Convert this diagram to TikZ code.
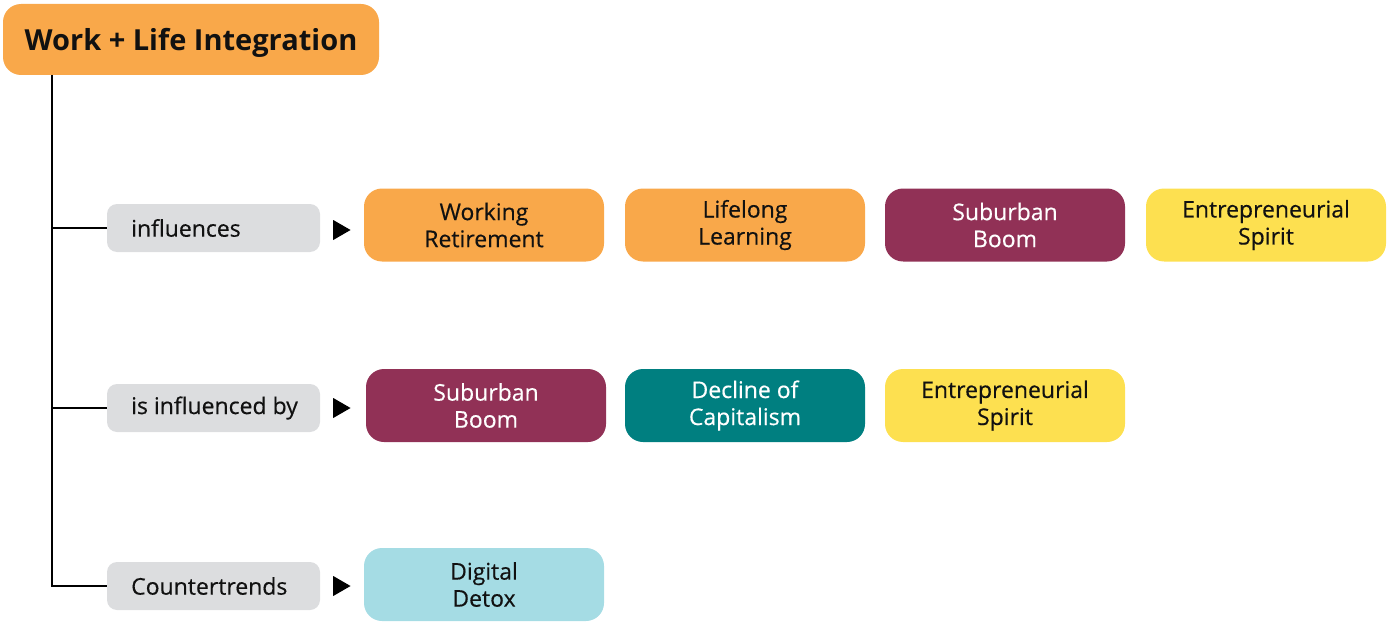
\documentclass[tikz,border=0pt]{standalone}
\usepackage{fontspec}
\setmainfont{Open Sans}
\usetikzlibrary{shapes.geometric}
\definecolor{corange}{HTML}{F9A84A}
\definecolor{cmaroon}{HTML}{913156}
\definecolor{cteal}{HTML}{007F80}
\definecolor{cblue}{HTML}{A5DCE4}
\definecolor{cyellow}{HTML}{FDE050}
\definecolor{cgrey}{HTML}{DCDDDF}
\definecolor{ctext}{HTML}{111111}
\tikzset{
  title/.style={fill=corange, rounded corners=18pt, minimum width=376pt, minimum height=71pt, inner sep=0pt},
  titletext/.style={anchor=base, inner sep=0pt, font=\fontsize{29}{34}\selectfont\bfseries, text=ctext},
  rel/.style={fill=cgrey, rounded corners=10pt, minimum width=213pt, minimum height=48pt, inner sep=0pt},
  reltext/.style={anchor=west, inner sep=0pt, font=\fontsize{23}{27}\selectfont\addfontfeature{FakeBold=0.4}, text=ctext},
  trend/.style={rounded corners=18pt, minimum width=240pt, minimum height=73pt, inner sep=0pt, align=center, font=\fontsize{23}{27}\selectfont\addfontfeature{FakeBold=0.4}, text=ctext},
  tri/.style={fill=black, isosceles triangle, isosceles triangle apex angle=60, inner sep=0pt, minimum height=12pt, minimum width=20pt},
  conn/.style={draw=black, line width=1.2pt}
}
\begin{document}
\begin{tikzpicture}[x=1pt,y=-1pt]
\useasboundingbox (0,0) rectangle (1390,623);
\node[title] (T) at (191,39.5) {};
\node[titletext] (Tt) at (191,51) {Work + Life Integration};
\node[rel] (R1) at (213.5,228) {};
\node[rel] (R2) at (213.5,408) {};
\node[rel] (R3) at (213.5,586) {};
\node[reltext] (L1) at (131,228) {influences};
\node[reltext] (L2) at (131,408) {is influenced by};
\node[reltext] (L3) at (131,586) {Countertrends};
\coordinate (V) at (52,75);
\coordinate (V3) at (52,586);
\draw[conn] (V) -- (V3) -- (R3.west);
\draw[conn] (52,228) -- (R1.west);
\draw[conn] (52,408) -- (R2.west);
\node[tri] (A1) at (339,230) {};
\node[tri] (A2) at (339,408) {};
\node[tri] (A3) at (339,586) {};
\node[trend, fill=corange] (a1) at (484,225) {Working\\Retirement};
\node[trend, fill=corange] (a2) at (745,225) {Lifelong\\Learning};
\node[trend, fill=cmaroon, text=white] (a3) at (1005,225) {Suburban\\Boom};
\node[trend, fill=cyellow] (a4) at (1266,225) {Entrepreneurial\\Spirit};
\node[trend, fill=cmaroon, text=white] (b1) at (486,405.5) {Suburban\\Boom};
\node[trend, fill=cteal, text=white] (b2) at (745,405.5) {Decline of\\Capitalism};
\node[trend, fill=cyellow] (b3) at (1005,405.5) {Entrepreneurial\\Spirit};
\node[trend, fill=cblue] (c1) at (484,584.5) {Digital\\Detox};
\end{tikzpicture}
\end{document}
